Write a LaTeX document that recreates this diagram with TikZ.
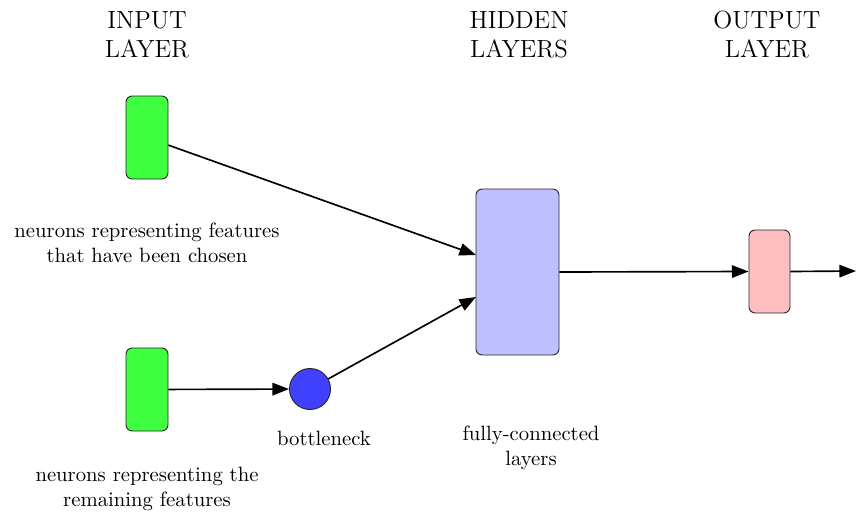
\documentclass[tikz,border=0pt]{standalone}
\usetikzlibrary{arrows.meta}
\begin{document}
\begin{tikzpicture}[x=0.483pt,y=-0.483pt,
  neuron/.style={draw=black!85,line width=0.45pt,rounded corners=3pt,inner sep=0pt},
  inbox/.style={neuron,fill=green!75,minimum width=42*0.483pt,minimum height=83*0.483pt},
  hidbox/.style={neuron,fill=blue!25,minimum width=83*0.483pt,minimum height=166*0.483pt},
  outbox/.style={neuron,fill=red!25,minimum width=41*0.483pt,minimum height=83*0.483pt},
  bneck/.style={circle,draw=black!85,line width=0.45pt,fill=blue!75,minimum size=41*0.483pt,inner sep=0pt},
  head/.style={align=center,font=\large,inner sep=0pt},
  lbl/.style={align=center,inner sep=0pt},
  conn/.style={line width=0.8pt,-{Triangle[length=8pt,width=6pt]}}
]
\useasboundingbox (0,0) rectangle (864,526);

\node[head] (hin) at (147,35) {INPUT\\LAYER};
\node[head] (hhid) at (519,35) {HIDDEN\\LAYERS};
\node[head] (hout) at (767,35) {OUTPUT\\LAYER};

\node[inbox] (in1) at (147,137.5) {};
\node[inbox] (in2) at (147,389.5) {};
\node[bneck] (bn) at (310,389) {};
\node[hidbox] (hid) at (517.5,272) {};
\node[outbox] (out) at (769.5,271.5) {};

\node[lbl] (t1) at (147,243) {neurons representing features\\that have been chosen};
\node[lbl] (t2) at (147,489) {neurons representing the\\remaining features};
\node[lbl] (t3) at (324,438) {bottleneck};
\node[lbl] (t4) at (531,448) {fully-connected\\layers};

\coordinate (h1) at (476,255);
\coordinate (h2) at (476,297);
\coordinate (end) at (856,271);

\draw[conn] (in1) -- (h1);
\draw[conn] (in2) -- (bn);
\draw[conn] (bn) -- (h2);
\draw[conn] (hid.east) -- (out.west);
\draw[conn] (out.east) -- (end);
\end{tikzpicture}
\end{document}
